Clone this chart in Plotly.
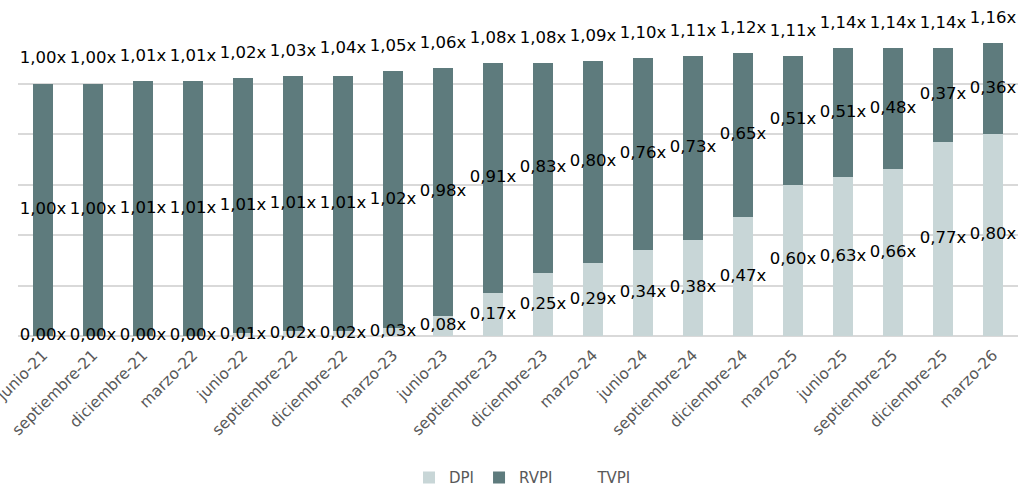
import plotly.graph_objects as go

periods = ["junio-21", "septiembre-21", "diciembre-21", "marzo-22", "junio-22",
           "septiembre-22", "diciembre-22", "marzo-23", "junio-23", "septiembre-23",
           "diciembre-23", "marzo-24", "junio-24", "septiembre-24", "diciembre-24",
           "marzo-25", "junio-25", "septiembre-25", "diciembre-25", "marzo-26"]
dpi = [0.00, 0.00, 0.00, 0.00, 0.01, 0.02, 0.02, 0.03, 0.08, 0.17,
       0.25, 0.29, 0.34, 0.38, 0.47, 0.60, 0.63, 0.66, 0.77, 0.80]
rvpi = [1.00, 1.00, 1.01, 1.01, 1.01, 1.01, 1.01, 1.02, 0.98, 0.91,
        0.83, 0.80, 0.76, 0.73, 0.65, 0.51, 0.51, 0.48, 0.37, 0.36]
tvpi = [1.00, 1.00, 1.01, 1.01, 1.02, 1.03, 1.04, 1.05, 1.06, 1.08,
        1.08, 1.09, 1.10, 1.11, 1.12, 1.11, 1.14, 1.14, 1.14, 1.16]

def fmt(v):
    return f"{v:.2f}".replace(".", ",") + "x"

DPI_COLOR = "#C8D6D7"
RVPI_COLOR = "#5E7B7D"
FONT = "DejaVu Sans"
LABEL_FONT = dict(family=FONT, size=16.5, color="#000000")

fig = go.Figure()
fig.add_trace(go.Bar(x=periods, y=dpi, name="DPI", marker_color=DPI_COLOR,
                     marker_line_width=0))
fig.add_trace(go.Bar(x=periods, y=rvpi, name="RVPI", marker_color=RVPI_COLOR,
                     marker_line_width=0))
# TVPI: legend entry only (no visible marker) plus labels above the bars
fig.add_trace(go.Scatter(x=periods, y=tvpi, name="TVPI", mode="markers+text",
                         marker=dict(size=24, color="rgba(0,0,0,0)"),
                         text=[fmt(v) for v in tvpi], textposition="top center",
                         textfont=LABEL_FONT, cliponaxis=False, hoverinfo="skip"))
# segment labels
fig.add_trace(go.Scatter(x=periods, y=[d / 2 for d in dpi], mode="text",
                         text=[fmt(v) for v in dpi], textfont=LABEL_FONT,
                         textposition="middle center", showlegend=False,
                         cliponaxis=False, hoverinfo="skip"))
fig.add_trace(go.Scatter(x=periods, y=[d + r / 2 for d, r in zip(dpi, rvpi)], mode="text",
                         text=[fmt(v) for v in rvpi], textfont=LABEL_FONT,
                         textposition="middle center", showlegend=False,
                         cliponaxis=False, hoverinfo="skip"))

fig.update_layout(
    width=1019, height=487,
    margin=dict(l=18, r=1, t=33, b=151, autoexpand=False),
    barmode="stack", bargap=0.6,
    plot_bgcolor="white", paper_bgcolor="white",
    font=dict(family=FONT, color="#595959"),
    legend=dict(orientation="h", x=0.505, xanchor="center", y=-0.468, yanchor="middle",
                font=dict(family=FONT, size=15, color="#595959"),
                traceorder="normal", itemwidth=30),
    showlegend=True,
)
fig.update_xaxes(range=[-0.5, len(periods) - 0.5], tickangle=-45,
                 tickfont=dict(family=FONT, size=15.5, color="#595959"),
                 ticklabelstandoff=6,
                 showgrid=False, showline=False, ticks="", automargin=False)
fig.update_yaxes(range=[0, 1.2], dtick=0.2, showticklabels=False, showgrid=True,
                 gridcolor="#D9D9D9", gridwidth=2, zeroline=True, zerolinecolor="#D9D9D9",
                 zerolinewidth=2, automargin=False)

fig.write_html("out.html", config={"displayModeBar": False},
               post_script="document.body.style.margin='0';document.body.style.overflow='hidden';")
